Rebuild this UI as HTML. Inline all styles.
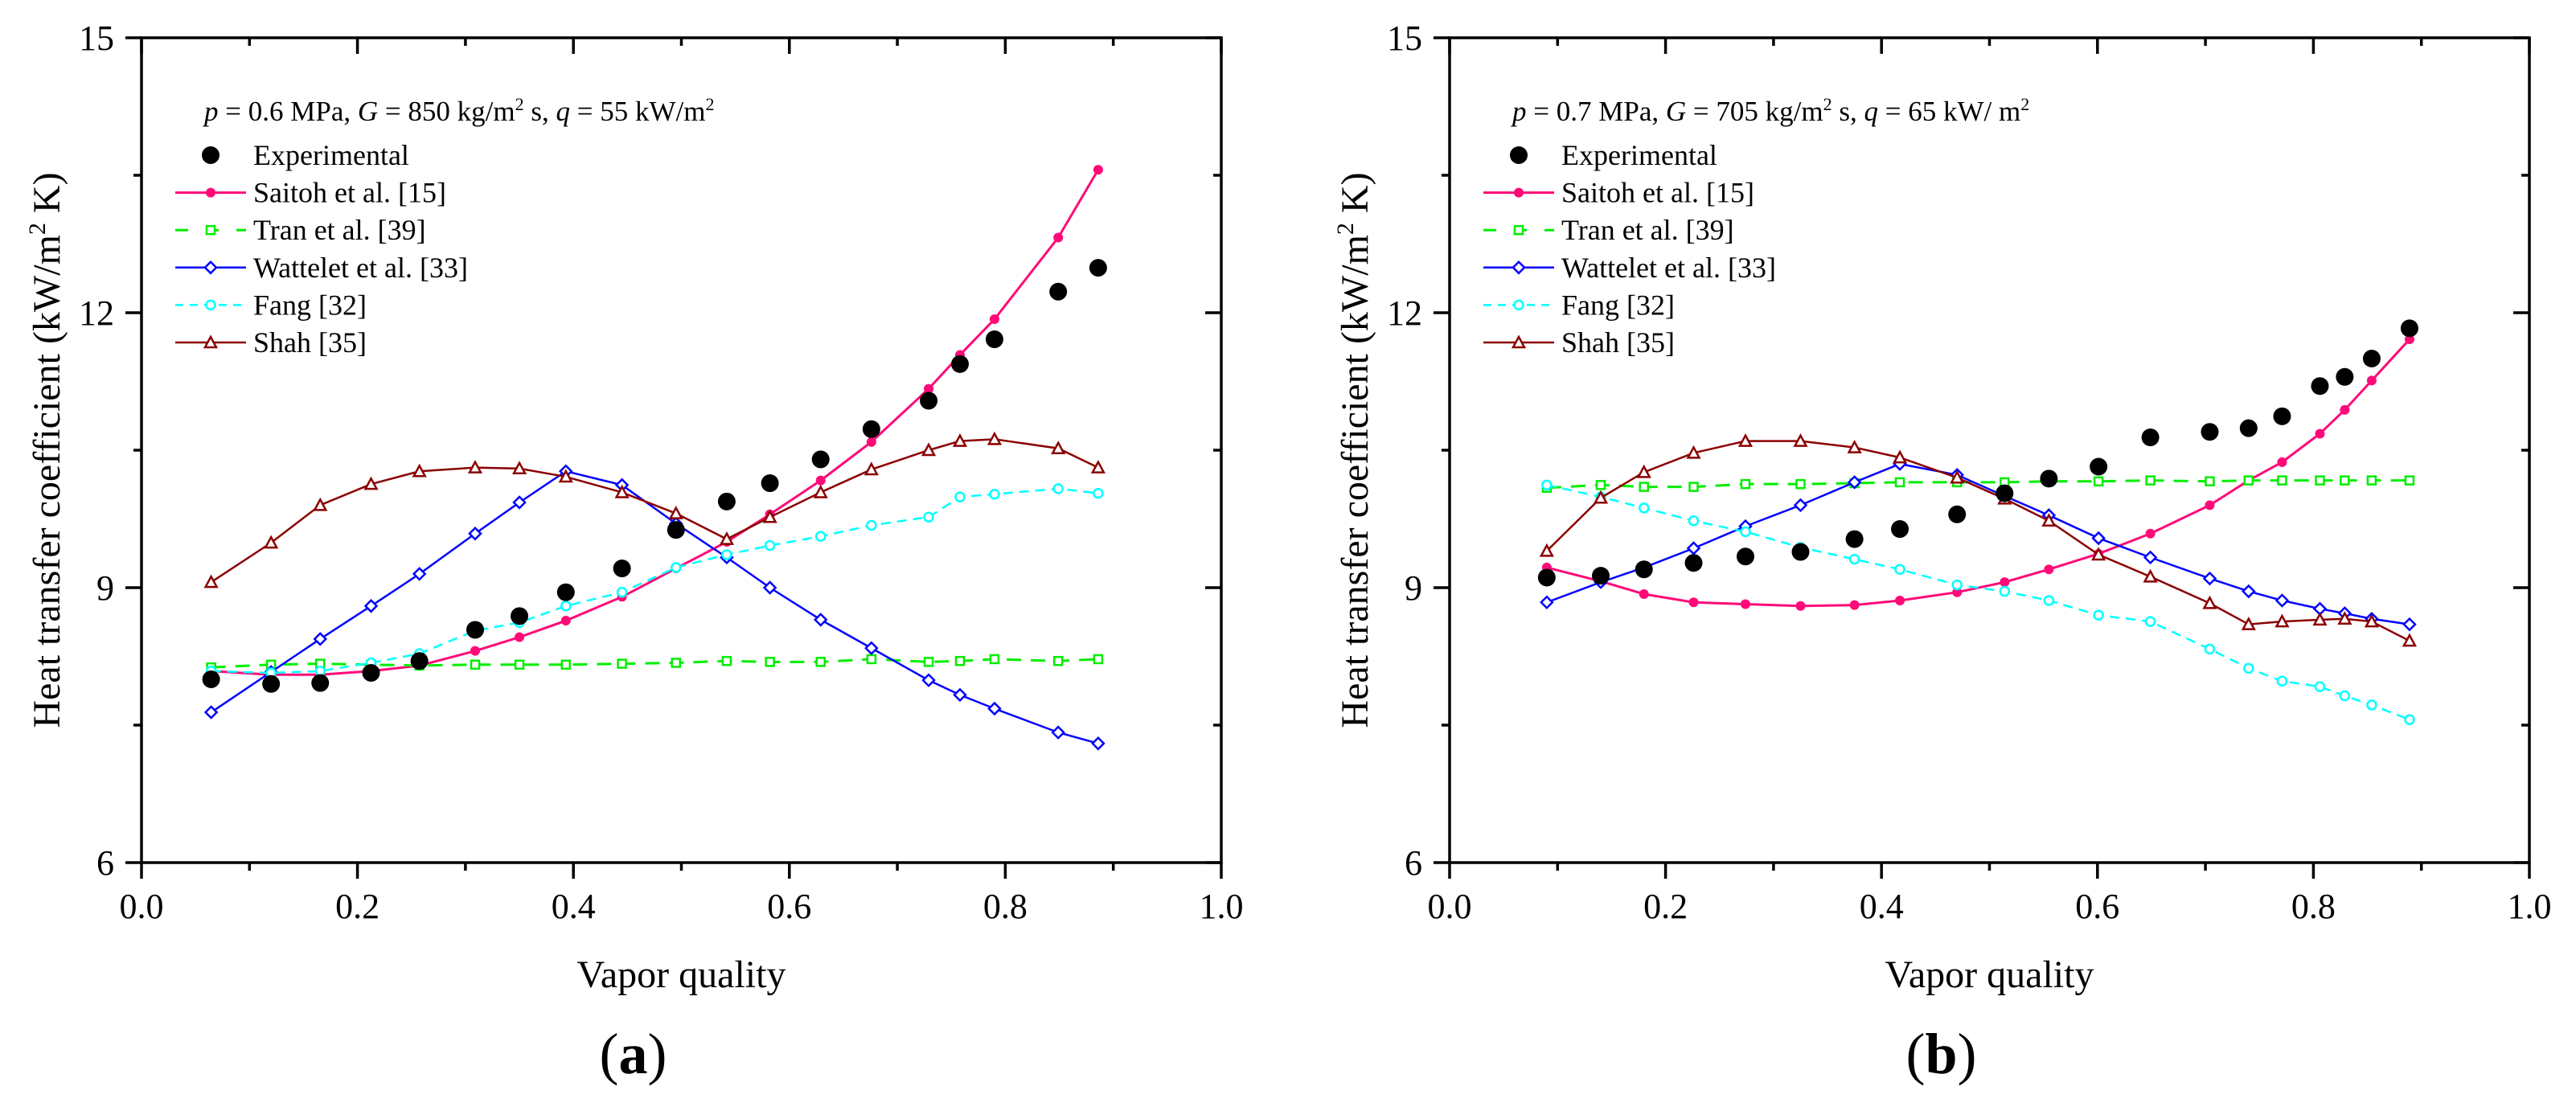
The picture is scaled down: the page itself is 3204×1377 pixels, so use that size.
<!DOCTYPE html>
<html><head><meta charset="utf-8"><style>
html,body{margin:0;padding:0;background:#fff}
svg{display:block;font-family:"Liberation Serif","Times New Roman",serif}
svg text{font-family:"Liberation Serif","Times New Roman",serif;fill:#000}
</style></head><body>
<svg id="fig" width="3204" height="1377" viewBox="0 0 3204 1377" xmlns="http://www.w3.org/2000/svg" font-family="Liberation Serif, serif"></svg>
<script>
// Panel (a) data
const xA = [0.0645,0.120,0.1655,0.2126,0.2574,0.309,0.350,0.393,0.445,0.495,0.542,0.582,0.629,0.676,0.729,0.758,0.790,0.849,0.886];
const expA = [8.00,7.95,7.96,8.07,8.20,8.54,8.69,8.95,9.21,9.63,9.94,10.14,10.40,10.73,11.04,11.44,11.71,12.23,12.49];
const saitohA = [8.09,8.05,8.05,8.09,8.15,8.31,8.46,8.64,8.90,9.21,9.50,9.80,10.17,10.59,11.17,11.54,11.93,12.82,13.56];
const tranA = [8.13,8.16,8.17,8.16,8.15,8.16,8.16,8.16,8.17,8.18,8.20,8.19,8.19,8.22,8.19,8.20,8.22,8.20,8.22];
const wattA = [7.64,8.08,8.44,8.80,9.15,9.59,9.93,10.27,10.12,9.70,9.33,9.00,8.65,8.34,7.99,7.83,7.68,7.42,7.30];
const fangA = [8.09,8.07,8.09,8.18,8.28,8.53,8.62,8.80,8.95,9.22,9.36,9.46,9.56,9.68,9.77,9.99,10.02,10.08,10.03];
const shahA = [9.06,9.49,9.90,10.13,10.27,10.31,10.30,10.21,10.04,9.81,9.53,9.77,10.04,10.29,10.50,10.60,10.62,10.52,10.31];
// Panel (b) data
const xB = [0.090,0.140,0.180,0.226,0.274,0.325,0.375,0.417,0.470,0.514,0.555,0.601,0.649,0.704,0.740,0.771,0.806,0.829,0.854,0.889];
const expB = [9.11,9.13,9.20,9.27,9.34,9.39,9.53,9.64,9.80,10.03,10.19,10.32,10.64,10.70,10.74,10.87,11.20,11.30,11.50,11.83];
const saitohB = [9.22,9.07,8.93,8.84,8.82,8.80,8.81,8.86,8.95,9.06,9.20,9.37,9.59,9.90,10.17,10.37,10.68,10.94,11.26,11.71];
const tranB = [10.09,10.12,10.10,10.10,10.13,10.13,10.14,10.15,10.15,10.15,10.16,10.16,10.17,10.16,10.17,10.17,10.17,10.17,10.17,10.17];
const wattB = [8.84,9.06,9.22,9.43,9.67,9.90,10.15,10.35,10.23,10.00,9.79,9.54,9.33,9.10,8.96,8.86,8.77,8.72,8.66,8.60];
const fangB = [10.12,9.99,9.87,9.73,9.61,9.44,9.31,9.20,9.03,8.96,8.86,8.70,8.63,8.33,8.12,7.98,7.92,7.82,7.72,7.56];
const shahB = [9.40,9.98,10.26,10.47,10.60,10.60,10.53,10.42,10.20,9.97,9.73,9.36,9.12,8.83,8.60,8.63,8.65,8.66,8.63,8.42];
const xTicks = [0.0,0.2,0.4,0.6,0.8,1.0];
const xTickLabels = ["0.0","0.2","0.4","0.6","0.8","1.0"];
const yTicks = [6,9,12,15];
const legendNames = ["Experimental","Saitoh et al. [15]","Tran et al. [39]","Wattelet et al. [33]","Fang [32]","Shah [35]"];

const NS="http://www.w3.org/2000/svg";
const FONT='"Liberation Serif", "Times New Roman", serif';
const svg=document.getElementById('fig');
function mk(tag,attrs,parent){const e=document.createElementNS(NS,tag);for(const k in attrs)e.setAttribute(k,attrs[k]);if(tag==='text')e.style.fontFamily=FONT;(parent||svg).appendChild(e);return e;}

const styles=[
 {key:'saitoh',color:'#ff0a78',dash:null,marker:'dotfill',w:3},
 {key:'tran',color:'#00ee00',dash:'18,12',marker:'square',w:3},
 {key:'watt',color:'#0000ff',dash:null,marker:'diamond',w:2.5},
 {key:'fang',color:'#00ffff',dash:'12,8',marker:'circle',w:2.5},
 {key:'shah',color:'#8b0000',dash:null,marker:'triangle',w:2.5}
];

function marker(g,type,cx,cy,color){
  let e;
  if(type==='dotfill'){e=mk('circle',{cx,cy,r:6,fill:color},g);}
  else if(type==='square'){e=mk('rect',{x:cx-5,y:cy-5,width:10,height:10,fill:'#fff',stroke:color,'stroke-width':2.5},g);}
  else if(type==='diamond'){e=mk('polygon',{points:`${cx},${cy-7} ${cx+7},${cy} ${cx},${cy+7} ${cx-7},${cy}`,fill:'#fff',stroke:color,'stroke-width':2.5},g);}
  else if(type==='circle'){e=mk('circle',{cx,cy,r:5.5,fill:'#fff',stroke:color,'stroke-width':2.5},g);}
  else if(type==='triangle'){e=mk('polygon',{points:`${cx},${cy-7} ${cx+7},${cy+6} ${cx-7},${cy+6}`,fill:'#fff',stroke:color,'stroke-width':2.5},g);}
  return e;
}

function panel(off,xs,exp,series,title,tag,id){
  const L=176+off,R=1519+off,T=47,B=1073;
  const X=v=>L+v*(R-L);
  const Y=v=>B-(v-6)/9*(B-T);
  const g=mk('g',{});
  
  
  const fr=mk('rect',{x:L,y:T,width:R-L,height:B-T,fill:'none',stroke:'#000','stroke-width':3.5},g);
  
  
  for(let i=0;i<=10;i++){
    const v=i/10,x=X(v),major=i%2===0,len=major?20:10;
    mk('line',{x1:x,y1:B,x2:x,y2:B+len,stroke:'#000','stroke-width':3.5},g);
    mk('line',{x1:x,y1:T,x2:x,y2:T+len,stroke:'#000','stroke-width':3.5},g);
  }
  xTicks.forEach((v,i)=>{
    const t=mk('text',{x:X(v),y:1142,'font-size':44,'text-anchor':'middle'},g);
    t.textContent=xTickLabels[i];
    
    
  });
  for(let v=6;v<=15;v+=1.5){
    const y=Y(v),major=(v%3===0),len=major?20:10;
    mk('line',{x1:L,y1:y,x2:L-len,y2:y,stroke:'#000','stroke-width':3.5},g);
    mk('line',{x1:R,y1:y,x2:R-len,y2:y,stroke:'#000','stroke-width':3.5},g);
  }
  yTicks.forEach(v=>{
    const t=mk('text',{x:L-34,y:Y(v)+15,'font-size':44,'text-anchor':'end'},g);
    t.textContent=String(v);
    
    
  });
  const yt=mk('text',{x:0,y:0,'font-size':48,'text-anchor':'middle',transform:`translate(${off+74},560) rotate(-90)`},g);
  yt.innerHTML='Heat transfer coefficient (kW/m<tspan dy="-18" font-size="30">2</tspan><tspan dy="18"> K)</tspan>';
  
  
  const xt=mk('text',{x:(L+R)/2,y:1228,'font-size':48,'text-anchor':'middle'},g);
  xt.textContent='Vapor quality';
  
  
  const pl=mk('text',{x:(L+R)/2-60,y:1335,'font-size':72,'text-anchor':'middle'},g);
  pl.innerHTML='(<tspan font-weight="bold">'+tag+'</tspan>)';
  
  
  series.forEach((vals,si)=>{
    const s=styles[si];
    const sg=mk('g',{},g);
    
    
    const pts=xs.map((x,i)=>X(x)+','+Y(vals[i])).join(' ');
    const a={points:pts,fill:'none',stroke:s.color,'stroke-width':s.w};
    if(s.dash)a['stroke-dasharray']=s.dash;
    mk('polyline',a,sg);
    xs.forEach((x,i)=>{
      const m=marker(sg,s.marker,X(x),Y(vals[i]),s.color);
      
      
    });
  });
  const eg=mk('g',{},g);
  
  
  xs.forEach((x,i)=>{
    const c=mk('circle',{cx:X(x),cy:Y(exp[i]),r:11,fill:'#000'},eg);
    
    
  });
  const lg=mk('g',{},g);
  
  
  const tt=mk('text',{x:off+254,y:150,'font-size':35},lg);
  tt.innerHTML=title;
  
  
  legendNames.forEach((n,i)=>{
    const y=193+i*46.6;
    if(i===0){mk('circle',{cx:off+262,cy:y,r:11,fill:'#000'},lg);}
    else{
      const s=styles[i-1];
      const a={x1:off+218,y1:y,x2:off+306,y2:y,stroke:s.color,'stroke-width':s.w};
      if(s.dash)a['stroke-dasharray']=s.key==='tran'?'16,22':'10,8';
      mk('line',a,lg);
      marker(lg,s.marker,off+262,y,s.color);
    }
    const t=mk('text',{x:off+315,y:y+12,'font-size':36},lg);
    t.textContent=n;
    
    
  });
}
const sup=s=>'<tspan dy="-13" font-size="22">'+s+'</tspan><tspan dy="13">';
panel(0,xA,expA,[saitohA,tranA,wattA,fangA,shahA],
 '<tspan font-style="italic">p</tspan> = 0.6 MPa, <tspan font-style="italic">G</tspan> = 850 kg/m'+sup('2')+' s, </tspan><tspan font-style="italic">q</tspan> = 55 kW/m'+sup('2')+'</tspan>','a','a');
panel(1627,xB,expB,[saitohB,tranB,wattB,fangB,shahB],
 '<tspan font-style="italic">p</tspan> = 0.7 MPa, <tspan font-style="italic">G</tspan> = 705 kg/m'+sup('2')+' s, </tspan><tspan font-style="italic">q</tspan> = 65 kW/ m'+sup('2')+'</tspan>','b','b');
</script>
</body></html>
